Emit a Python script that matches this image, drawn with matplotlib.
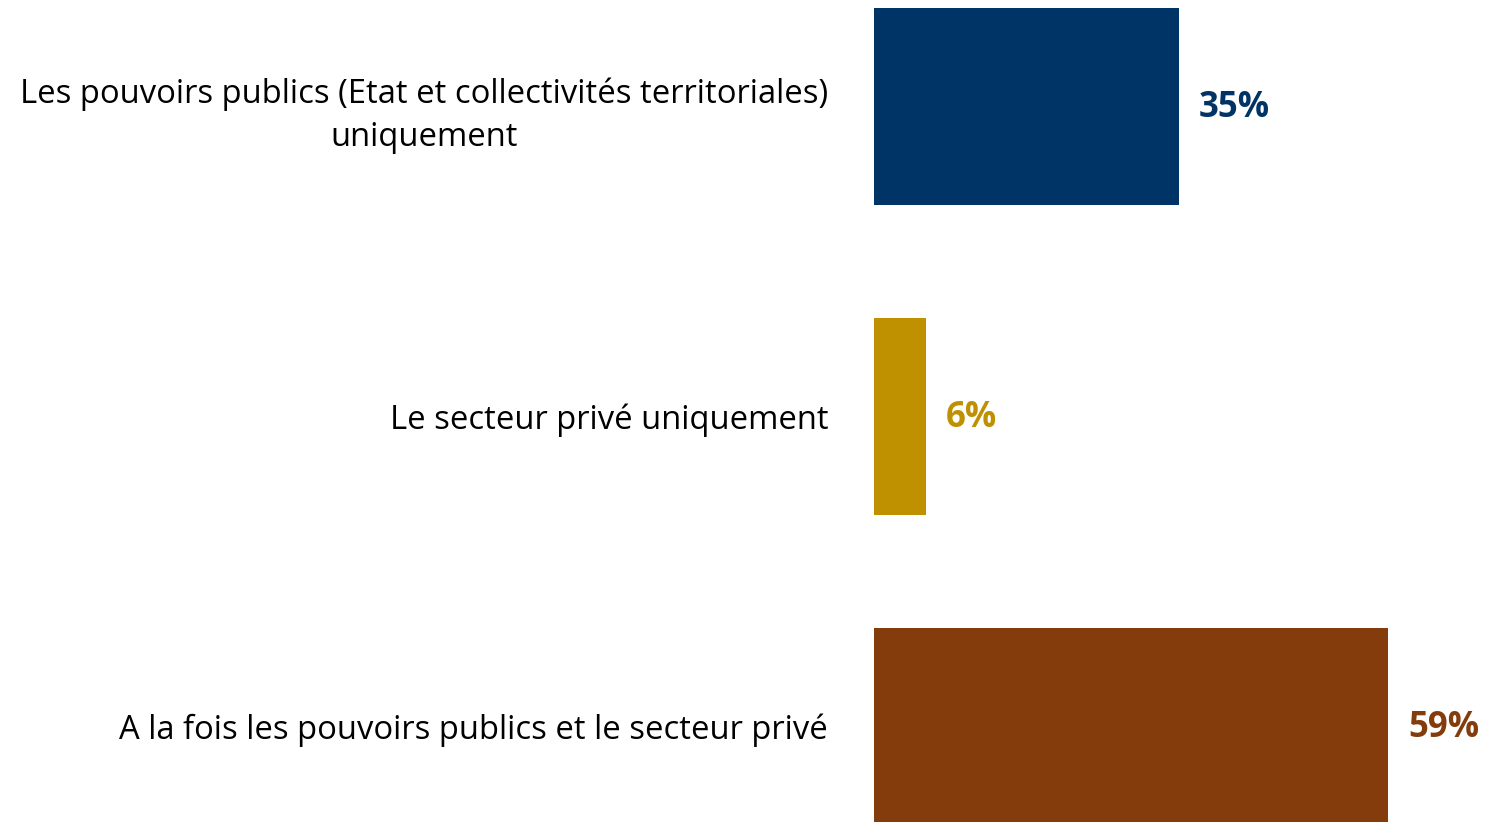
import matplotlib.pyplot as plt

categories = [
    "Les pouvoirs publics (Etat et collectivités territoriales)\nuniquement",
    "Le secteur privé uniquement",
    "A la fois les pouvoirs publics et le secteur privé",
]
values = [35, 6, 59]
value_labels = ["35%", "6%", "59%"]
colors = ["#003366", "#BF9000", "#843C0C"]

plt.rcParams["font.family"] = ["Open Sans", "DejaVu Sans"]

fig = plt.figure(figsize=(14.86, 8.22), dpi=100)
ax = fig.add_axes([874 / 1486, 0, 612 / 1486, 1])

pos = list(range(len(values)))
ax.barh(pos, values, height=0.635, color=colors)
ax.set_xlim(0, 612 / 8.72)
ax.set_ylim(2.308, -0.3435)

for y, v, lab, c in zip(pos, values, value_labels, colors):
    ax.annotate(lab, (v, y), xytext=(14, -1), textcoords="offset points",
                va="center", ha="left", fontsize=25, fontweight="bold", color=c)

ax.set_yticks(pos)
ax.set_yticklabels(categories, fontsize=23.6, multialignment="center",
                   linespacing=1.4)
ax.tick_params(axis="y", length=0, pad=33)
ax.set_xticks([])
for s in ax.spines.values():
    s.set_visible(False)

fig.savefig("out.png", dpi=100)
